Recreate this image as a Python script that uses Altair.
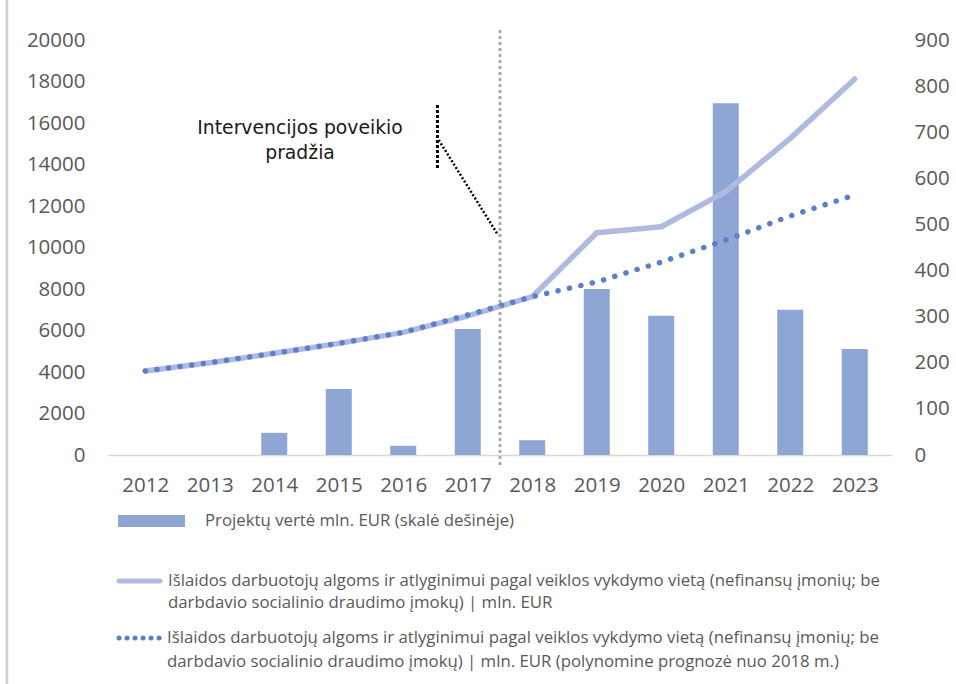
import altair as alt
import pandas as pd

# --- data -------------------------------------------------------------
years = list(range(2012, 2024))
# project value, mln. EUR (right-hand scale)
project_value = [0, 0, 48, 143, 20, 273, 32, 360, 302, 763, 315, 230]
# wages and salaries by place of activity, mln. EUR (left-hand scale)
wages = [4050, 4450, 4900, 5380, 5910, 6700, 7630, 10710, 11000, 12690, 15260, 18120]
# polynomial trend projected from 2018
wages_trend = [4050, 4450, 4900, 5380, 5910, 6750, 7630, 8340, 9300, 10360, 11520, 12530]

left_ticks = list(range(0, 20001, 2000))
right_ticks = list(range(0, 901, 100))

intervention_year = 2017.5
annotation_text = ["Intervencijos poveikio", "pradžia"]
annotation_pos = (2014.4, 15760)
# leader line: short vertical bar and diagonal pointer (year, value)
leader_vertical = (2016.53, 16870, 13730)
leader_diagonal = (2016.55, 15180, 2017.47, 10600)

legend_labels = [
    "Projektų vertė mln. EUR (skalė dešinėje)",
    "Išlaidos darbuotojų algoms ir atlyginimui pagal veiklos vykdymo vietą (nefinansų įmonių; be\n"
    "darbdavio socialinio draudimo įmokų) | mln. EUR",
    "Išlaidos darbuotojų algoms ir atlyginimui pagal veiklos vykdymo vietą (nefinansų įmonių; be\n"
    "darbdavio socialinio draudimo įmokų) | mln. EUR (polynomine prognozė nuo 2018 m.)",
]

BAR = "#8FA5D4"
LINE = "#AEBAE0"
DOTS = "#5B7FC9"
GREY_TXT = "#595959"
FONT = "Open Sans"
LEG_FONT = "Open Sans"

df = pd.DataFrame({
    "year": years,
    "project": project_value,
    "wages": wages,
    "trend": wages_trend,
})

x_scale = alt.Scale(domain=[2011.5, 2023.5], nice=False, zero=False)
x_axis = alt.Axis(
    values=years, format="d", title=None, grid=False, ticks=False,
    domain=True, domainColor="#D9D9D9", domainWidth=1.5,
    labelFont=FONT, labelFontSize=20.5, labelColor=GREY_TXT, labelPadding=20,
    labelFlush=False,
)
left_scale = alt.Scale(domain=[0, 20000], nice=False)
right_scale = alt.Scale(domain=[0, 900], nice=False)


def X(field="year"):
    return alt.X(f"{field}:Q", scale=x_scale, axis=x_axis)


# --- bars on the right-hand axis ---------------------------------------
bars = alt.Chart(df).mark_bar(size=26, color=BAR).encode(
    x=X(),
    y=alt.Y("project:Q", scale=right_scale, axis=alt.Axis(
        orient="right", values=right_ticks, format="d", title=None, grid=False,
        ticks=False, domain=False, labelFont=FONT, labelFontSize=20.5,
        labelColor=GREY_TXT, labelPadding=22, labelAlign="left",
        labelBaseline="middle",
    )),
)

# --- lines on the left-hand axis ---------------------------------------
wage_line = alt.Chart(df).mark_line(
    color=LINE, strokeWidth=5.5, strokeCap="round", strokeJoin="round"
).encode(
    x=X(),
    y=alt.Y("wages:Q", scale=left_scale, axis=alt.Axis(
        orient="left", values=left_ticks, format="d", title=None, grid=False,
        ticks=False, domain=False, labelFont=FONT, labelFontSize=20.5,
        labelColor=GREY_TXT, labelPadding=23, labelBaseline="middle",
    )),
)

trend_line = alt.Chart(df).mark_line(
    color=DOTS, strokeWidth=5.5, strokeCap="round", strokeDash=[0.1, 11.6]
).encode(
    x=X(),
    y=alt.Y("trend:Q", scale=left_scale, axis=None),
)

# vertical marker of the intervention start
marker = alt.Chart(pd.DataFrame({"year": [intervention_year]})).mark_rule(
    color="#ABABAB", strokeWidth=3, strokeDash=[3, 3]
).encode(
    x=X(),
    y=alt.value(-10),
    y2=alt.value(428),
)

# annotation text and its leader lines
ann_df = pd.DataFrame({
    "year": [annotation_pos[0]], "val": [annotation_pos[1]], "label": [annotation_text],
})
annotation = alt.Chart(ann_df).mark_text(
    font="DejaVu Sans", fontSize=18.8, color="#1A1A1A", align="center",
    baseline="middle", lineHeight=25,
).encode(
    x=X(),
    y=alt.Y("val:Q", scale=left_scale, axis=None),
    text="label",
)

vdf = pd.DataFrame({
    "year": [leader_vertical[0]], "y1": [leader_vertical[1]], "y2": [leader_vertical[2]],
})
leader_v = alt.Chart(vdf).mark_rule(
    color="#000000", strokeWidth=3, strokeDash=[3, 2]
).encode(
    x=X(),
    y=alt.Y("y1:Q", scale=left_scale, axis=None),
    y2="y2:Q",
)

ddf = pd.DataFrame({
    "year": [leader_diagonal[0]], "y1": [leader_diagonal[1]],
    "year2": [leader_diagonal[2]], "y2": [leader_diagonal[3]],
})
leader_d = alt.Chart(ddf).mark_rule(
    color="#000000", strokeWidth=2.5, strokeDash=[2, 2]
).encode(
    x=X(),
    x2="year2:Q",
    y=alt.Y("y1:Q", scale=left_scale, axis=None),
    y2="y2:Q",
)

# --- legend below the plot (pixel offsets from the plot origin) ---------
one = pd.DataFrame({"k": [0]})
leg_bar = alt.Chart(one).mark_rect(color=BAR).encode(
    x=alt.value(10), x2=alt.value(77), y=alt.value(475), y2=alt.value(487),
)
leg_line = alt.Chart(one).mark_rule(
    color=LINE, strokeWidth=5, strokeCap="round"
).encode(
    x=alt.value(11), x2=alt.value(52), y=alt.value(541),
)
leg_dots = alt.Chart(one).mark_rule(
    color=DOTS, strokeWidth=5, strokeCap="round", strokeDash=[0.1, 7.9]
).encode(
    x=alt.value(11), x2=alt.value(52), y=alt.value(598),
)


def legend_text(label, px, py, line_height):
    return alt.Chart(one).mark_text(
        font=LEG_FONT, fontSize=16.8, color=GREY_TXT, align="left",
        baseline="middle", lineHeight=line_height,
    ).encode(
        x=alt.value(px), y=alt.value(py), text=alt.value(label.split("\n")),
    )


leg_text_1 = legend_text(legend_labels[0], 97, 481, 21)
leg_text_2 = legend_text(legend_labels[1], 60, 541, 22)
leg_text_3 = legend_text(legend_labels[2], 59, 598, 23.5)

# thin frame edge on the left
frame = alt.Chart(one).mark_rule(color="#D0D0D0", strokeWidth=2.5).encode(
    x=alt.value(-101), y=alt.value(-40), y2=alt.value(644),
)

# every layer carries fixed domains, so independent y scales stay aligned
chart = alt.layer(
    frame, bars, wage_line, trend_line, marker, annotation, leader_v, leader_d,
    leg_bar, leg_line, leg_dots, leg_text_1, leg_text_2, leg_text_3,
).resolve_scale(y="independent").properties(
    width=784,
    height=415,
    padding={"left": 108, "top": 40, "right": 64, "bottom": 229},
    autosize=alt.AutoSizeParams(type="none"),
    background="white",
).configure_view(stroke=None)

chart.save("out.html", embed_options={"renderer": "svg", "actions": False})
